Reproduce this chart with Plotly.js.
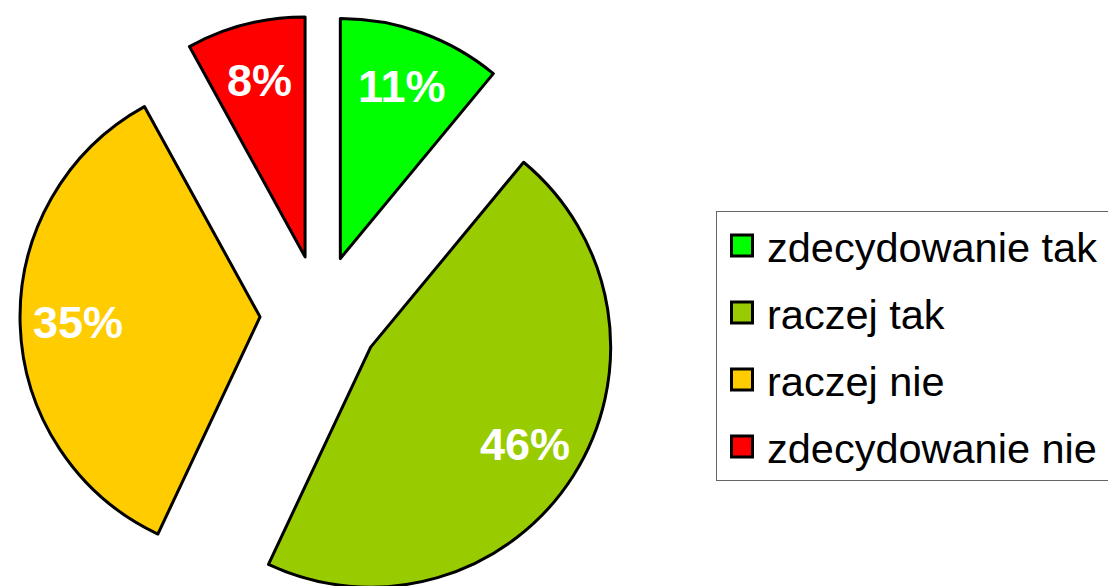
<!DOCTYPE html>
<html>
<head>
<meta charset="utf-8">
<script src="https://cdn.plot.ly/plotly-3.0.1.min.js"></script>
<style>
html,body{margin:0;padding:0;background:#fff;overflow:hidden;}
#wrap{width:1108px;height:586px;overflow:hidden;position:relative;}
#chart{width:1108px;height:630px;}
.legendpie{d:path("M10.5,10.5H-10.5V-10.5H10.5Z");}
</style>
</head>
<body>
<div id="wrap"><div id="chart"></div></div>
<script>
const categories = ["zdecydowanie tak", "raczej tak", "raczej nie", "zdecydowanie nie"];
const values = [11, 46, 35, 8];
const colors = ["#00FF00", "#99CC00", "#FFCC00", "#FF0000"];

const W = 1108, H = 630, MT = 15, MB = 15;
const plotH = H - MT - MB;
const domainX = [20/W, 620/W];
const PULL = 0.25;

const trace = {
  type: "pie",
  labels: categories,
  values: values,
  sort: false,
  direction: "clockwise",
  rotation: 0,
  pull: values.map(() => PULL),
  marker: {colors: colors, line: {color: "#000000", width: 3}},
  textinfo: "none",
  hoverinfo: "none",
  domain: {x: domainX, y: [0, 1]}
};

// percentage labels placed along each slice's bisector, near the rim
const total = values.reduce((a, b) => a + b, 0);
const boxW = (domainX[1] - domainX[0]) * W;
const r = Math.min(boxW, plotH) / 2 / (1 + PULL);
const cxP = (domainX[0] + domainX[1]) / 2, cyP = 0.5;
let cum = 0;
const annotations = values.map((v) => {
  const mid = (cum + v / 2) / total * 2 * Math.PI;
  cum += v;
  const dist = r * (PULL + 0.76);
  return {
    xref: "paper", yref: "paper",
    x: cxP + dist * Math.sin(mid) / W,
    y: cyP + dist * Math.cos(mid) / plotH,
    xanchor: "center", yanchor: "middle",
    text: Math.round(v / total * 100) + "%",
    showarrow: false,
    font: {family: "Liberation Sans, Arial, sans-serif", size: 45, color: "#FFFFFF", weight: "bold"}
  };
});

const layout = {
  width: W,
  height: H,
  margin: {l: 0, r: 0, t: MT, b: MB},
  paper_bgcolor: "#FFFFFF",
  showlegend: true,
  annotations: annotations,
  legend: {
    x: 716/W, xanchor: "left",
    y: 1 - (211 - MT)/plotH, yanchor: "top",
    bgcolor: "#FFFFFF",
    bordercolor: "#666666",
    borderwidth: 1,
    itemwidth: 40,
    font: {family: "Liberation Sans, Arial, sans-serif", size: 41.5, color: "#000000"},
    traceorder: "normal"
  }
};

Plotly.newPlot("chart", [trace], layout, {displayModeBar: false, staticPlot: true}).then(function(gd) {
  // widen the legend row spacing to match the reference
  const ROW = 67;
  const items = Array.from(gd.querySelectorAll(".legend .traces"));
  if (items.length < 2) return;
  const parse = (el) => {
    const m = /translate\(\s*([-\d.e]+)[ ,]+([-\d.e]+)\s*\)/.exec(el.getAttribute("transform") || "");
    return m ? [parseFloat(m[1]), parseFloat(m[2])] : null;
  };
  const p0 = parse(items[0]), p1 = parse(items[1]);
  if (!p0 || !p1) return;
  const delta = ROW - (p1[1] - p0[1]);
  items.forEach((el, i) => {
    const p = parse(el);
    if (p) el.setAttribute("transform", "translate(" + p[0] + "," + (p[1] + i * delta) + ")");
  });
  const extra = delta * (items.length - 1);
  gd.querySelectorAll(".legend rect.bg").forEach((bg) => {
    bg.setAttribute("height", parseFloat(bg.getAttribute("height")) + extra);
    bg.setAttribute("width", parseFloat(bg.getAttribute("width")) + 20);
  });
  document.querySelectorAll("clipPath[id^='legend'] rect").forEach((cr) => {
    cr.setAttribute("height", parseFloat(cr.getAttribute("height")) + extra);
    cr.setAttribute("width", parseFloat(cr.getAttribute("width")) + 20);
  });
});
</script>
</body>
</html>
